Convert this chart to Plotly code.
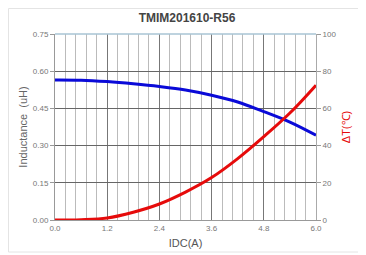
import plotly.graph_objects as go

idc = [0.0, 0.6, 1.2, 1.8, 2.4, 3.0, 3.6, 4.2, 4.8, 5.4, 6.0]
inductance = [0.565, 0.564, 0.558, 0.549, 0.538, 0.524, 0.503, 0.476, 0.437, 0.395, 0.342]
delta_t = [0.0, 0.2, 1.1, 4.2, 8.6, 15.0, 22.8, 33.0, 44.8, 57.5, 72.5]

x_ticks = [0.0, 1.2, 2.4, 3.6, 4.8, 6.0]
l_ticks = [0.00, 0.15, 0.30, 0.45, 0.60, 0.75]
t_ticks = [0, 20, 40, 60, 80, 100]

FONT = "Liberation Sans, Arial, sans-serif"
W, H = 358, 247
L, R, T, B = 47, 50, 26, 35
PW, PH = W - L - R, H - T - B

fig = go.Figure()
fig.add_trace(go.Scatter(x=idc, y=inductance, mode="lines", line=dict(color="#0a0ad8", width=3, shape="spline"),
                         yaxis="y", showlegend=False))
fig.add_trace(go.Scatter(x=idc, y=delta_t, mode="lines", line=dict(color="#e60b0b", width=3, shape="spline"),
                         yaxis="y2", showlegend=False))

fig.update_layout(
    width=W, height=H,
    margin=dict(l=L, r=R, t=T, b=B, autoexpand=False),
    paper_bgcolor="white", plot_bgcolor="white",
    font=dict(family=FONT, size=8, color="#666"),
    title=dict(text="<b>TMIM201610-R56</b>", x=0.5, xanchor="center", y=0.962, yanchor="middle",
               font=dict(family=FONT, size=12, color="#444")),
    xaxis=dict(range=[0, 6], tickvals=x_ticks, tickformat=".1f", showgrid=True, gridcolor="#777", gridwidth=1,
               minor=dict(dtick=0.24, showgrid=True, gridcolor="#bbb", gridwidth=1),
               zeroline=False, showline=True, linecolor="#999", linewidth=1, automargin=False,
               title=dict(text="IDC(A)", font=dict(family=FONT, size=11, color="#555"), standoff=7),
               ticks="", tickfont=dict(size=8, color="#777")),
    yaxis=dict(range=[0, 0.75], tickvals=l_ticks, tickformat=".2f", showgrid=True, gridcolor="#666", gridwidth=1,
               zeroline=False, showline=True, linecolor="#999", ticks="outside", ticklen=4, tickcolor="#999",
               automargin=False,
               title=dict(text="Inductance  (uH)", font=dict(family=FONT, size=11, color="#666"), standoff=2),
               tickfont=dict(size=8, color="#777")),
    yaxis2=dict(range=[0, 100], tickvals=t_ticks, overlaying="y", side="right", showgrid=False,
                zeroline=False, showline=True, linecolor="#aaa", ticks="outside", ticklen=4, tickcolor="#999",
                automargin=False,
                title=dict(text="ΔT(℃)", font=dict(family=FONT, size=11, color="#e60b0b"), standoff=6),
                tickfont=dict(size=8, color="#777")),
    shapes=[
        dict(type="line", xref="paper", yref="paper", x0=0, x1=1, y0=1, y1=1, line=dict(color="#a8c4d4", width=1.5)),
        dict(type="rect", xref="paper", yref="paper", x0=(0.5 - L) / PW, x1=(W - 0.5 - L) / PW,
             y0=-(H - 3 - T - PH) / PH, y1=1 + (T - 0.5) / PH,
             line=dict(color="#e4e4e4", width=1)),
    ],
)

fig.write_html("out.html")
